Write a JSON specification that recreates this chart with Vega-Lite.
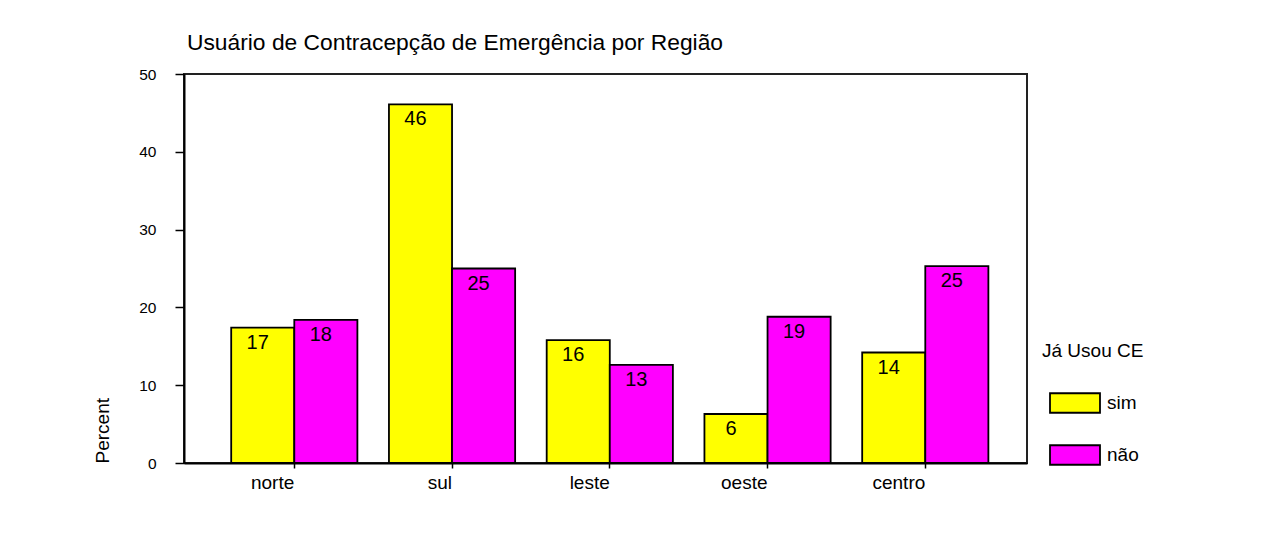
{
  "$schema": "https://vega.github.io/schema/vega-lite/v6.json",
  "autosize": "none",
  "padding": {"left": 184, "top": 74, "right": 245, "bottom": 87},
  "width": 843,
  "height": 389,
  "background": "white",
  "title": {
    "text": "Usuário de Contracepção de Emergência por Região",
    "anchor": "start",
    "frame": "group",
    "fontSize": 22.8,
    "fontWeight": "normal",
    "font": "Liberation Sans",
    "color": "black",
    "baseline": "alphabetic",
    "dx": 3,
    "offset": -6
  },
  "data": {
    "values": [
      {"regiao": "norte", "uso": "sim", "pct": 17.4},
      {"regiao": "norte", "uso": "não", "pct": 18.4},
      {"regiao": "sul", "uso": "sim", "pct": 46.1},
      {"regiao": "sul", "uso": "não", "pct": 25.0},
      {"regiao": "leste", "uso": "sim", "pct": 15.8},
      {"regiao": "leste", "uso": "não", "pct": 12.6},
      {"regiao": "oeste", "uso": "sim", "pct": 6.3},
      {"regiao": "oeste", "uso": "não", "pct": 18.8},
      {"regiao": "centro", "uso": "sim", "pct": 14.2},
      {"regiao": "centro", "uso": "não", "pct": 25.3}
    ]
  },
  "encoding": {
    "x": {
      "field": "regiao",
      "type": "nominal",
      "sort": ["norte", "sul", "leste", "oeste", "centro"],
      "scale": {"paddingInner": 0.2, "paddingOuter": 0.272, "align": 0.55},
      "axis": {
        "title": null,
        "labelAngle": 0,
        "labelAlign": "right",
        "labelBaseline": "alphabetic",
        "labelFontSize": 19,
        "labelFont": "Liberation Sans",
        "labelColor": "black",
        "labelPadding": 20,
        "labelDx": 3,
        "tickSize": 5,
        "tickColor": "black",
        "tickWidth": 1.5,
        "domainColor": "black",
        "domainWidth": 2
      }
    },
    "xOffset": {
      "field": "uso",
      "type": "nominal",
      "sort": ["sim", "não"],
      "scale": {"paddingInner": 0, "paddingOuter": 0}
    },
    "y": {
      "field": "pct",
      "type": "quantitative",
      "scale": {"domain": [0, 50], "nice": false},
      "axis": {
        "title": "Percent",
        "titleFont": "Liberation Sans",
        "titleFontSize": 19,
        "titleFontWeight": "normal",
        "titleColor": "black",
        "titleAngle": -90,
        "titleAlign": "left",
        "titleBaseline": "middle",
        "titleX": -82,
        "titleY": 389,
        "values": [0, 10, 20, 30, 40, 50],
        "grid": false,
        "labelFontSize": 15.5,
        "labelFont": "Liberation Sans",
        "labelColor": "black",
        "labelPadding": 19,
        "labelFlush": false,
        "tickSize": 9,
        "tickColor": "black",
        "tickWidth": 1.5,
        "domainColor": "black",
        "domainWidth": 2
      }
    }
  },
  "layer": [
    {
      "mark": {"type": "bar", "stroke": "black", "strokeWidth": 1.8},
      "encoding": {
        "color": {
          "field": "uso",
          "type": "nominal",
          "sort": ["sim", "não"],
          "scale": {"domain": ["sim", "não"], "range": ["#FFFF00", "#FF00FF"]},
          "legend": {
            "title": "Já Usou CE",
            "orient": "none",
            "legendX": 858,
            "legendY": 268,
            "titleFont": "Liberation Sans",
            "titleFontSize": 19,
            "titleFontWeight": "normal",
            "titleColor": "black",
            "titlePadding": 16,
            "labelFont": "Liberation Sans",
            "labelFontSize": 19,
            "labelColor": "black",
            "labelOffset": 6,
            "symbolType": "M-1,-0.39H1V0.39H-1Z",
            "symbolSize": 2500,
            "symbolOffset": 7,
            "symbolStrokeColor": "black",
            "symbolStrokeWidth": 1.8,
            "symbolOpacity": 1,
            "rowPadding": 12
          }
        }
      }
    },
    {
      "mark": {
        "type": "text",
        "baseline": "alphabetic",
        "align": "center",
        "dy": 21,
        "dx": -5,
        "fontSize": 20,
        "font": "Liberation Sans",
        "color": "black"
      },
      "encoding": {
        "text": {"field": "pct", "type": "quantitative", "format": ".0f"}
      }
    }
  ],
  "config": {
    "view": {"stroke": "#222", "strokeWidth": 2},
    "font": "Liberation Sans"
  }
}
